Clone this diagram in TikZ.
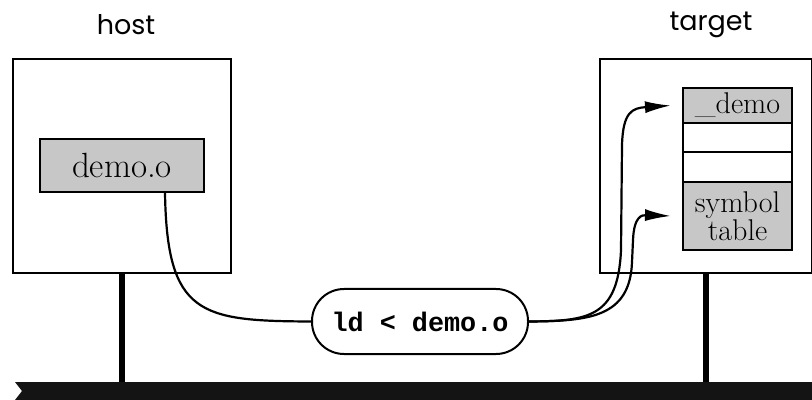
\documentclass[tikz,border=0pt]{standalone}
\usepackage{fontspec}
\newfontfamily\labelfont{Poppins}
\newfontfamily\codefont{Liberation Mono}
\usepackage{tikz}
\usetikzlibrary{arrows.meta}
\usetikzlibrary{calc}

\begin{document}
\begin{tikzpicture}[x=0.5pt,y=-0.5pt,
		machine/.style={draw,line width=1pt,inner sep=0pt,minimum height=107pt},
		cell/.style={draw,line width=1pt,inner sep=0pt,minimum width=54.5pt,font=\fontsize{15}{14}\selectfont},
		dotted fill/.style={fill=black!22},
		stem/.style={line width=2.6pt},
		link/.style={line width=1.1pt},
		hook/.style={link,-{Latex[length=13pt,width=6pt]}}]
			\useasboundingbox (0,0) rectangle (812,400);
			% machines
			\node[machine,minimum width=109pt] (host) at (122,166) {};
			\node[machine,minimum width=106pt] (target) at (706,166) {};
			\node[font=\labelfont\fontsize{13.5}{15}\selectfont] (hostlabel) at (126,25) {host};
			\node[font=\labelfont\fontsize{13.5}{15}\selectfont] (targetlabel) at (711,25) {target};
			% object file on the host
			\node[draw,line width=1pt,dotted fill,minimum width=82pt,minimum height=26.5pt,inner sep=0pt,
				font=\fontsize{17.5}{20}\selectfont] (demoobj) at (122,165.5) {demo.o};
			% memory of the target
			\node[cell,dotted fill,minimum height=17.5pt] (symdemo) at (737.5,105.5) {\_demo};
			\node[cell,minimum height=14.5pt] (slotA) at (737.5,137.5) {};
			\node[cell,minimum height=15pt] (slotB) at (737.5,167) {};
			\node[cell,dotted fill,minimum height=34pt,align=center] (symtab) at (737.5,216) {symbol\\table};
			% loader command
			\node[draw,line width=1pt,rounded corners=16pt,minimum width=108pt,minimum height=32.5pt,
				font=\codefont\bfseries\fontsize{13.4}{16}\selectfont] (ldcmd) at (420,321.5) {ld < demo.o};
			% network
			\coordinate (bus) at (0,382);
			\fill[black!92] (15,382) -- (812,382) -- (812,400) -- (15,400) -- (22,391) -- cycle;
			\draw[stem] (host.south) -- (host.south |- bus);
			\draw[stem] (target.south) -- (target.south |- bus);
			% connectors
			\draw[link] ([xshift=21.5pt]demoobj.south) .. controls (167,315) and (200,321) .. (ldcmd.west);
			\draw[hook] (ldcmd.east) .. controls (588,321) and (618,318) .. (621,250) -- (622,145)
				.. controls (623,112) and (632,108) .. ([xshift=-5.5pt]symdemo.west);
			\draw[hook] (ldcmd.east) .. controls (588,321) and (630,318) .. (632,262) -- (633,240)
				.. controls (634,216) and (642,215) .. ([xshift=-5.5pt]symtab.west);
		\end{tikzpicture}
\end{document}
